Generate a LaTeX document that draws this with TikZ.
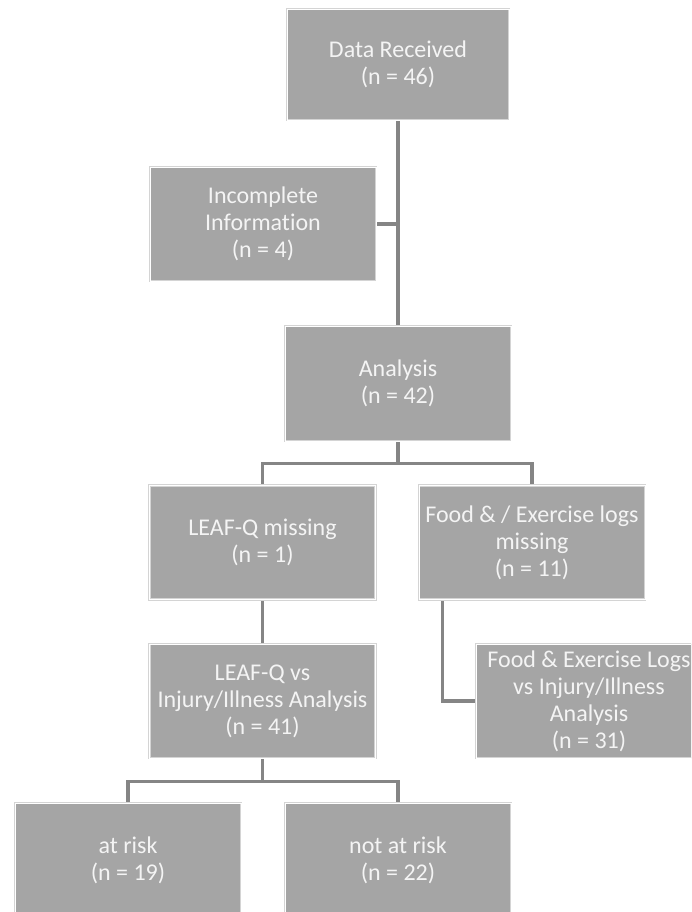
\documentclass[tikz,border=0pt]{standalone}
\usepackage{fontspec}
\setmainfont{Carlito}[Ligatures=NoCommon]
\usetikzlibrary{calc,backgrounds}
\definecolor{boxfill}{HTML}{A5A5A5}
\definecolor{boxedge}{HTML}{D4D4D4}
\definecolor{linegray}{HTML}{858585}
\definecolor{txt}{HTML}{F4F4F4}
\begin{document}
\begin{tikzpicture}[x=1pt,y=-1pt,
  flowbox/.style={rectangle, fill=boxfill, draw=boxedge, line width=0.7pt,
    double=white, double distance=0.9pt,
    minimum width=226pt, minimum height=114pt, inner sep=0pt,
    align=center, text=txt, font=\fontsize{24}{27}\selectfont},
  link/.style={draw=linegray, line width=3.3pt}]
\useasboundingbox (0,0) rectangle (691,912);
\clip (0,0) rectangle (691,912);

\node[flowbox, minimum width=222pt, minimum height=111pt] (data) at (398,64.5) {Data Received\\(n = 46)};
\node[flowbox] (incomplete) at (263,224) {Incomplete\\Information\\(n = 4)};
\node[flowbox, minimum height=115pt] (analysis) at (398,383.5) {Analysis\\(n = 42)};
\node[flowbox] (leafmiss) at (262.5,542.5) {LEAF-Q missing\\(n = 1)};
\node[flowbox] (foodmiss) at (532,542.5) {Food \& / Exercise logs\\missing\\(n = 11)};
\node[flowbox] (leafvs) at (262.5,701) {LEAF-Q vs\\Injury/Illness Analysis\\(n = 41)};
\node[flowbox] (foodvs) at (589,701) {Food \& Exercise Logs\\vs Injury/Illness\\Analysis\\(n = 31)};
\node[flowbox] (atrisk) at (128,860) {at risk\\(n = 19)};
\node[flowbox] (notrisk) at (398,860) {not at risk\\(n = 22)};

\coordinate (b1) at ($(analysis.south)+(0,22)$);
\coordinate (b2) at ($(leafvs.south)+(0,23)$);
\coordinate (fm) at ($(foodmiss.south west)!0.106!(foodmiss.south east)$);

\begin{scope}[on background layer]
\path[link] (data.south) -- (analysis.north);
\path[link] (incomplete.east) -- (incomplete.east -| data.south);
\path[link] (analysis.south) -- (b1);
\path[link] (b1) -| (leafmiss.north);
\path[link] (b1) -| (foodmiss.north);
\path[link] (leafmiss.south) -- (leafvs.north);
\path[link] (fm) |- (foodvs.west);
\path[link] (leafvs.south) -- (b2);
\path[link] (b2) -| (atrisk.north);
\path[link] (b2) -| (notrisk.north);
\end{scope}
\end{tikzpicture}
\end{document}
